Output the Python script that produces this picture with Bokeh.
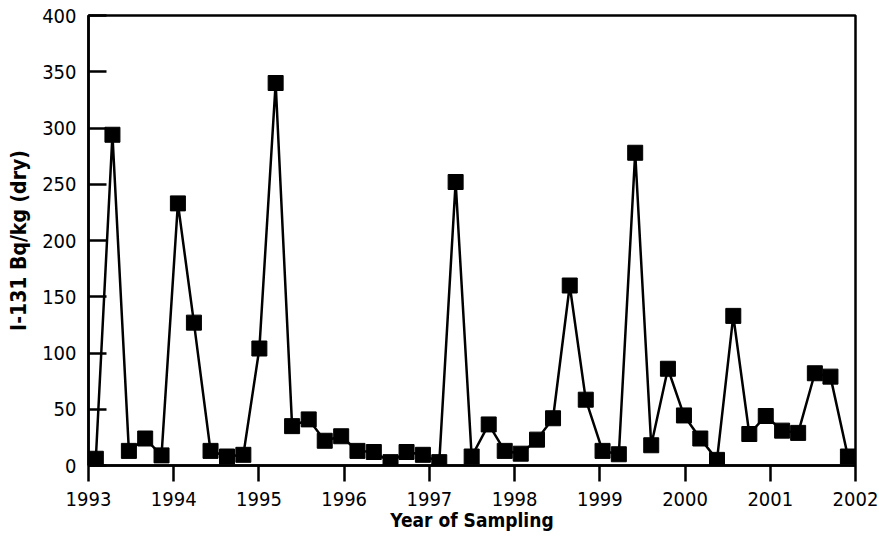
from bokeh.plotting import figure
from bokeh.models import FixedTicker, Range1d, ColumnDataSource
from bokeh.embed import file_html
from bokeh.resources import INLINE

# Sampling dates (decimal years) and I-131 activity in Bq/kg (dry)
sample_year = [
    1993.086, 1993.281, 1993.474, 1993.665, 1993.857, 1994.049, 1994.237, 1994.432,
    1994.625, 1994.817, 1995.005, 1995.196, 1995.389, 1995.584, 1995.772, 1995.965,
    1996.156, 1996.348, 1996.544, 1996.732, 1996.924, 1997.116, 1997.308, 1997.496,
    1997.696, 1997.884, 1998.072, 1998.263, 1998.451, 1998.647, 1998.835, 1999.032,
    1999.223, 1999.415, 1999.603, 1999.799, 1999.987, 2000.179, 2000.375, 2000.566,
    2000.754, 2000.947, 2001.139, 2001.327, 2001.523, 2001.706, 2001.911,
]
i131 = [
    6, 294, 13, 24, 9, 233, 127, 13,
    8, 9.5, 104, 340, 35, 41, 22, 26,
    13, 12, 3, 12, 9.5, 3, 252, 8,
    36.5, 13, 10.5, 23, 42, 160, 58.5, 13,
    10, 278, 18, 86, 44.5, 24, 5, 133,
    28, 44, 31, 29, 82, 79, 8,
]
x_ticks = [1993, 1994, 1995, 1996, 1997, 1998, 1999, 2000, 2001, 2002]
y_ticks = [0, 50, 100, 150, 200, 250, 300, 350, 400]

FONT = "'Liberation Sans Narrow', 'DejaVu Sans Condensed', 'Arial Narrow', sans-serif"

src = ColumnDataSource(data=dict(x=sample_year, y=i131))

p = figure(
    width=879, height=536,
    x_range=Range1d(1993, 2002), y_range=Range1d(0, 400),
    output_backend="svg", toolbar_location=None,
    min_border_left=88, min_border_right=24, min_border_top=15, min_border_bottom=71,
)
p.background_fill_color = "white"
p.border_fill_color = "white"
p.grid.visible = False

p.outline_line_color = "black"
p.outline_line_width = 2.5
p.outline_line_alpha = 1.0

p.line("x", "y", source=src, line_color="black", line_width=2.5)
p.scatter("x", "y", source=src, marker="square", size=15,
          fill_color="black", line_color="black")

# x axis: ticks pointing outward, years as labels
xa = p.xaxis[0]
xa.ticker = FixedTicker(ticks=x_ticks)
xa.minor_tick_line_color = None
xa.major_tick_in = 0
xa.major_tick_out = 16
xa.major_tick_line_width = 2.5
xa.axis_line_width = 2.5
xa.major_label_text_font = FONT
xa.major_label_text_font_size = "20px"
xa.major_label_text_color = "black"
xa.major_label_standoff = 10
xa.axis_label = "Year of Sampling"
xa.axis_label_text_font = FONT
xa.axis_label_text_font_style = "bold"
xa.axis_label_text_font_size = "19px"
xa.axis_label_text_color = "black"
xa.axis_label_standoff = 0

# y axis: ticks pointing into the plot
ya = p.yaxis[0]
ya.ticker = FixedTicker(ticks=y_ticks)
ya.minor_tick_line_color = None
ya.major_tick_in = 18
ya.major_tick_out = 0
ya.major_tick_line_width = 2.5
ya.axis_line_width = 2.5
ya.major_label_text_font = FONT
ya.major_label_text_font_size = "20px"
ya.major_label_text_color = "black"
ya.major_label_standoff = 12
ya.axis_label = "I-131 Bq/kg (dry)"
ya.axis_label_text_font = FONT
ya.axis_label_text_font_style = "bold"
ya.axis_label_text_font_size = "21px"
ya.axis_label_text_color = "black"
ya.axis_label_standoff = 8

open("out.html", "w").write(file_html(p, INLINE))
